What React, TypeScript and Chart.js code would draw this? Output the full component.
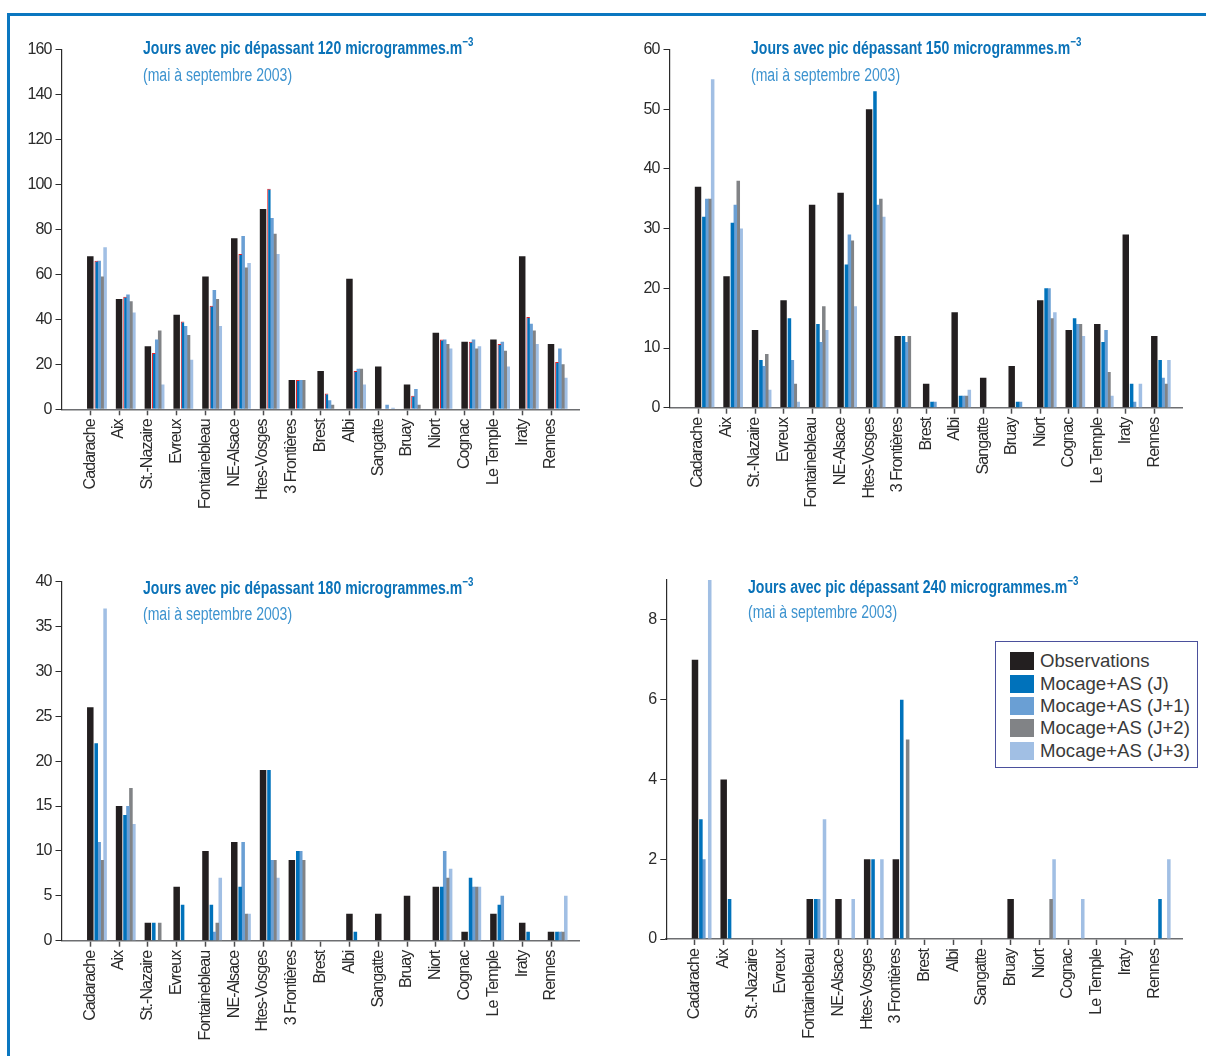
import React, { useEffect, useRef } from 'react';
import { Chart, registerables } from 'chart.js';

Chart.register(...registerables);

// ---------- data ----------
const categories = [
  'Cadarache', 'Aix', 'St.-Nazaire', 'Evreux', 'Fontainebleau', 'NE-Alsace', 'Htes-Vosges',
  '3 Frontières', 'Brest', 'Albi', 'Sangatte', 'Bruay', 'Niort', 'Cognac', 'Le Temple', 'Iraty', 'Rennes',
];

const seriesNames = ['Observations', 'Mocage+AS (J)', 'Mocage+AS (J+1)', 'Mocage+AS (J+2)', 'Mocage+AS (J+3)'];
const seriesColors = ['#231f20', '#0072bb', '#6a9fd4', '#818386', '#a1bfe4'];

// > 120 µg/m3
const obs120 = [68, 49, 28, 42, 59, 76, 89, 13, 17, 58, 19, 11, 34, 30, 31, 68, 29];
const j0_120 = [66, 50, 25, 39, 46, 69, 98, 13, 7, 17, 0, 6, 31, 30, 29, 41, 21];
const j1_120 = [66, 51, 31, 37, 53, 77, 85, 13, 4, 18, 2, 9, 31, 31, 30, 38, 27];
const j2_120 = [59, 48, 35, 33, 49, 63, 78, 13, 2, 18, 0, 2, 29, 27, 26, 35, 20];
const j3_120 = [72, 43, 11, 22, 37, 65, 69, 0, 0, 11, 0.7, 0, 27, 28, 19, 29, 14];

// > 150 µg/m3
const obs150 = [37, 22, 13, 18, 34, 36, 50, 12, 4, 16, 5, 7, 18, 13, 14, 29, 12];
const j0_150 = [32, 31, 8, 15, 14, 24, 53, 12, 1, 2, 0, 1, 20, 15, 11, 4, 8];
const j1_150 = [35, 34, 7, 8, 11, 29, 34, 11, 1, 2, 0, 1, 20, 14, 13, 1, 5];
const j2_150 = [35, 38, 9, 4, 17, 28, 35, 12, 0, 2, 0, 0, 15, 14, 6, 0, 4];
const j3_150 = [55, 30, 3, 1, 13, 17, 32, 0, 0, 3, 0, 0, 16, 12, 2, 4, 8];

// > 180 µg/m3
const obs180 = [26, 15, 2, 6, 10, 11, 19, 9, 0, 3, 3, 5, 6, 1, 3, 2, 1];
const j0_180 = [22, 14, 2, 4, 4, 6, 19, 10, 0, 1, 0, 0, 6, 7, 4, 1, 1];
const j1_180 = [11, 15, 0, 0, 1, 11, 9, 10, 0, 0, 0, 0, 10, 6, 5, 0, 1];
const j2_180 = [9, 17, 2, 0, 2, 3, 9, 9, 0, 0, 0, 0, 7, 6, 0, 0, 1];
const j3_180 = [37, 13, 0, 0, 7, 3, 7, 0, 0, 0, 0, 0, 8, 6, 0, 0, 5];

// > 240 µg/m3
const obs240 = [7, 4, 0, 0, 1, 1, 2, 2, 0, 0, 0, 1, 0, 0, 0, 0, 0];
const j0_240 = [3, 1, 0, 0, 1, 0, 2, 6, 0, 0, 0, 0, 0, 0, 0, 0, 1];
const j1_240 = [2, 0, 0, 0, 1, 0, 0, 0, 0, 0, 0, 0, 0, 0, 0, 0, 0];
const j2_240 = [0, 0, 0, 0, 0, 0, 0, 5, 0, 0, 0, 0, 1, 0, 0, 0, 0];
const j3_240 = [9, 0, 0, 0, 3, 1, 2, 0, 0, 0, 0, 0, 2, 1, 0, 0, 2];

const thresholds = ['120', '150', '180', '240'];
const yMaxes = [160, 60, 40, 9];
const ySteps = [20, 10, 5, 2];

// ---------- layout ----------
const SANS = '"Liberation Sans", Arial, sans-serif';
const CAT_PCT = 1.13;

type Box = { left: number; top: number; width: number; height: number };
type Area = { left: number; top: number; right: number; bottom: number };

const panelLayouts: { canvas: Box; area: Area; titleX: number; titleTop: number; subTop: number }[] = [
  { canvas: { left: 0, top: 30, width: 603, height: 500 }, area: { left: 61.5, top: 49.3, right: 590.3, bottom: 409.3 }, titleX: 143, titleTop: 38, subTop: 65 },
  { canvas: { left: 603, top: 30, width: 603, height: 500 }, area: { left: 669.5, top: 49.5, right: 1197.5, bottom: 407.7 }, titleX: 751, titleTop: 38, subTop: 65 },
  { canvas: { left: 0, top: 560, width: 603, height: 496 }, area: { left: 61.5, top: 581.5, right: 590.3, bottom: 940.7 }, titleX: 143, titleTop: 578, subTop: 604 },
  { canvas: { left: 603, top: 560, width: 603, height: 496 }, area: { left: 666.3, top: 580, right: 1195.3, bottom: 939 }, titleX: 748, titleTop: 577, subTop: 602 },
];

const panelSeries = [
  [obs120, j0_120, j1_120, j2_120, j3_120],
  [obs150, j0_150, j1_150, j2_150, j3_150],
  [obs180, j0_180, j1_180, j2_180, j3_180],
  [obs240, j0_240, j1_240, j2_240, j3_240],
];

// tighter letter spacing to imitate the condensed typeface of the original
const condensePlugin = {
  id: 'condense',
  beforeDraw(chart: any) { chart.ctx.letterSpacing = '-0.9px'; },
  afterDraw(chart: any) { chart.ctx.letterSpacing = '0px'; },
};

function Panel({ index }: { index: number }) {
  const ref = useRef<HTMLCanvasElement>(null);
  const lay = panelLayouts[index];
  const c = lay.canvas;
  const a = lay.area;

  useEffect(() => {
    if (!ref.current) return;
    const labels = ['', ...categories, ''];
    const pad = (arr: number[]) => [null, ...arr, null];
    const series = panelSeries[index];
    const spacer = () => ({
      label: '',
      data: [] as any[],
      backgroundColor: 'rgba(0,0,0,0)',
      categoryPercentage: CAT_PCT,
      barPercentage: 1,
    });
    const models = [1, 2, 3, 4].map((k) => ({
      label: seriesNames[k],
      data: pad(series[k]),
      backgroundColor: seriesColors[k],
      categoryPercentage: CAT_PCT,
      barPercentage: 1.2,
      borderColor: '#e3242b',
      borderWidth: index === 0 && k === 1 ? { left: 1, top: 1, right: 0, bottom: 0 } : 0,
    }));
    const datasets: any[] = [
      spacer(), spacer(), spacer(), spacer(), spacer(),
      {
        label: seriesNames[0],
        data: pad(series[0]),
        backgroundColor: seriesColors[0],
        categoryPercentage: CAT_PCT,
        barPercentage: 2.2,
      },
      spacer(),
      ...models,
    ];
    const yW = a.left - c.left;
    const xH = c.top + c.height - a.bottom;
    const step = ySteps[index];
    const chart = new Chart(ref.current, {
      type: 'bar',
      data: { labels, datasets },
      plugins: [condensePlugin],
      options: {
        animation: false,
        responsive: false,
        devicePixelRatio: 1,
        layout: { padding: { left: 0, top: a.top - c.top, right: c.left + c.width - a.right, bottom: 0 } },
        plugins: { legend: { display: false }, tooltip: { enabled: false }, title: { display: false } },
        scales: {
          x: {
            type: 'category',
            offset: false,
            grid: {
              offset: false,
              drawOnChartArea: false,
              drawTicks: true,
              tickLength: 6,
              tickWidth: 1.5,
              tickColor: (ctx: any) => (ctx.index === 0 || ctx.index === labels.length - 1 ? 'rgba(0,0,0,0)' : '#4d4d4f'),
            },
            border: { display: true, color: '#6d6e71', width: 1.6 },
            ticks: {
              autoSkip: false,
              minRotation: 90,
              maxRotation: 90,
              padding: 4,
              color: '#2b2b2b',
              font: { family: SANS, size: 16 },
            },
            afterFit: (s: any) => { s.height = xH; },
          },
          y: {
            min: 0,
            max: yMaxes[index],
            ticks: { stepSize: step, padding: 4, color: '#2b2b2b', font: { family: SANS, size: 16 } },
            grid: { drawOnChartArea: false, drawTicks: true, tickLength: 6, tickColor: '#2b2b2b', tickWidth: 1 },
            border: { display: true, color: '#2b2b2b', width: 1.2 },
            afterFit: (s: any) => { s.width = yW; },
            afterBuildTicks: (s: any) => { s.ticks = s.ticks.filter((t: any) => t.value % step === 0); },
          },
        },
      },
    } as any);
    return () => chart.destroy();
  }, [index]);

  const textBase: React.CSSProperties = {
    position: 'absolute', left: lay.titleX, whiteSpace: 'nowrap', fontFamily: SANS,
    fontSize: '18px', lineHeight: '20px', transform: 'scaleX(0.78)', transformOrigin: '0 0',
  };

  return (
    <>
      <canvas
        ref={ref}
        width={c.width}
        height={c.height}
        style={{ position: 'absolute', left: c.left, top: c.top, width: c.width, height: c.height }}
      />
      <div style={{ ...textBase, top: lay.titleTop, fontWeight: 'bold', color: '#0a72b8' }}>
        Jours avec pic dépassant {thresholds[index]} microgrammes.m
        <span style={{ fontSize: '12.5px', position: 'relative', top: '-8px', lineHeight: 0 }}>−3</span>
      </div>
      <div style={{ ...textBase, top: lay.subTop, color: '#3d93cf' }}>(mai à septembre 2003)</div>
    </>
  );
}

function Legend() {
  return (
    <div
      style={{
        position: 'absolute', left: 995, top: 641, width: 203, height: 127, boxSizing: 'border-box',
        border: '1px solid #4b509c', background: '#fff', paddingTop: 8, paddingLeft: 14,
      }}
    >
      {seriesNames.map((name, i) => (
        <div key={name} style={{ display: 'flex', alignItems: 'center', height: 22.4 }}>
          <div style={{ width: 24, height: 18, background: seriesColors[i], marginRight: 6, flex: 'none' }} />
          <span style={{ fontFamily: SANS, fontSize: '18.6px', color: '#3a3a3a', whiteSpace: 'nowrap', lineHeight: '20px' }}>
            {name}
          </span>
        </div>
      ))}
    </div>
  );
}

export default function App() {
  return (
    <div style={{ position: 'absolute', left: 0, top: 0, width: 1206, height: 1056, background: '#fff', overflow: 'hidden' }}>
      <div
        style={{
          position: 'absolute', left: 7, top: 13, width: 1199, height: 1043, boxSizing: 'border-box',
          borderTop: '3px solid #0b77c0', borderLeft: '3px solid #0b77c0',
        }}
      />
      {[0, 1, 2, 3].map((i) => (
        <Panel key={i} index={i} />
      ))}
      <Legend />
    </div>
  );
}
